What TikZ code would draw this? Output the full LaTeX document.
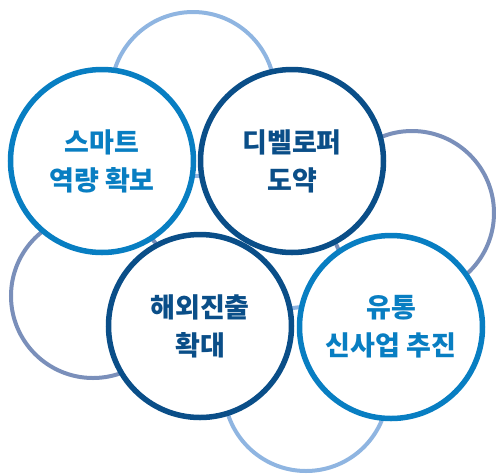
\documentclass[tikz,border=0pt]{standalone}
\usepackage{fontspec}
\setmainfont{Noto Sans CJK KR}
\definecolor{midblue}{RGB}{8,126,194}
\definecolor{darkblue}{RGB}{10,78,136}
\definecolor{lightblue}{RGB}{143,181,225}
\definecolor{slate}{RGB}{122,143,186}
\tikzset{
  bgcircle/.style={circle, draw=#1, line width=4pt, minimum size=164pt, inner sep=0pt},
  fgfill/.style={circle, fill=white, minimum size=183pt, inner sep=0pt},
  fgring/.style={circle, draw=#1, line width=5.5pt, minimum size=183pt, inner sep=0pt},
  lbl/.style={text=#1, font=\bfseries\fontsize{27}{38}\selectfont, align=center, inner sep=0pt}
}
\begin{document}
\begin{tikzpicture}[x=1pt,y=-1pt]
\useasboundingbox (0,0) rectangle (496,475);
% background circles
\node[bgcircle=lightblue] (bgtop) at (193,94) {};
\node[bgcircle=slate] (bgright) at (412,213) {};
\node[bgcircle=slate] (bgleft) at (93,296) {};
\node[bgcircle=lightblue] (bgbottom) at (306,389) {};
% white fills
\node[fgfill] (f1) at (102,161) {};
\node[fgfill] (f2) at (292,161) {};
\node[fgfill] (f3) at (200,326) {};
\node[fgfill] (f4) at (391,327) {};
% rings
\node[fgring=midblue] (c1) at (102,161) {};
\node[fgring=darkblue] (c2) at (292,161) {};
\node[fgring=darkblue] (c3) at (200,326) {};
\node[fgring=midblue] (c4) at (391,327) {};
% labels
\node[lbl=midblue] (t1) at (c1.center) {스마트\\역량 확보};
\node[lbl=darkblue] (t2) at (c2.center) {디벨로퍼\\도약};
\node[lbl=darkblue] (t3) at (c3.center) {해외진출\\확대};
\node[lbl=midblue] (t4) at (c4.center) {유통\\신사업 추진};
\end{tikzpicture}
\end{document}
